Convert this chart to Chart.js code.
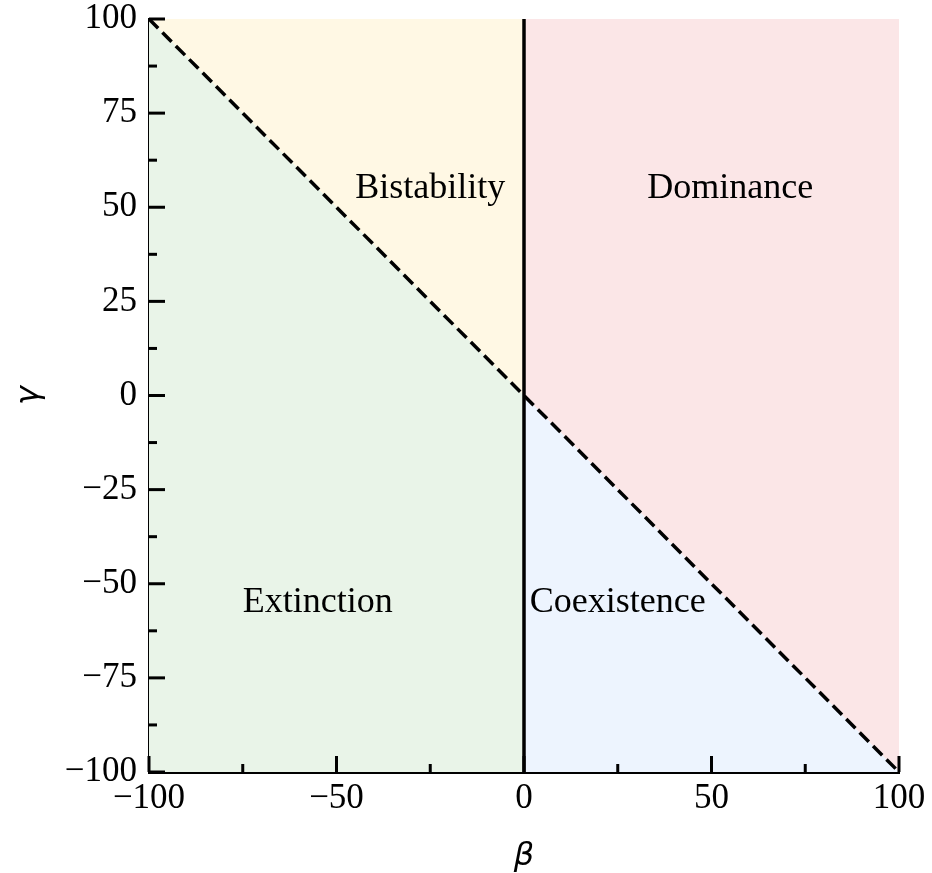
<!DOCTYPE html>
<html>
<head>
<meta charset="utf-8">
<title>Phase diagram</title>
<script src="https://cdn.jsdelivr.net/npm/chart.js@4.4.1/dist/chart.umd.min.js"></script>
<style>
  html, body { margin: 0; padding: 0; background: #fff; }
  #wrap { width: 932px; height: 873px; }
</style>
</head>
<body>
<div id="wrap"><canvas id="phaseChart" width="932" height="873"></canvas></div>
<script>
// Region corners (beta, gamma)
const extinctionBeta = [-100, 0, 0, -100, -100];
const extinctionGamma = [100, 0, -100, -100, 100];
const bistabilityBeta = [-100, 0, 0, -100];
const bistabilityGamma = [100, 100, 0, 100];
const dominanceBeta = [0, 100, 100, 0, 0];
const dominanceGamma = [100, 100, -100, 0, 100];
const coexistenceBeta = [0, 100, 0, 0];
const coexistenceGamma = [0, -100, -100, 0];

// Boundaries: gamma = -beta (dashed) and beta = 0 (solid)
const diagonalBeta = [-100, 100];
const diagonalGamma = [100, -100];
const verticalBeta = [0, 0];
const verticalGamma = [-100, 100];

// Region labels
const regionNames = ['Extinction', 'Bistability', 'Dominance', 'Coexistence'];
const regionBeta = [-55, -25, 55, 25];
const regionGamma = [-55, 55, 55, -55];

// Axis ticks
const betaTicks = [-100, -50, 0, 50, 100];
const gammaTicks = [-100, -75, -50, -25, 0, 25, 50, 75, 100];

function toPoints(xs, ys) {
    return xs.map(function(x, i) { return { x: x, y: ys[i] }; });
}

function regionSet(xs, ys, color) {
    return {
        data: toPoints(xs, ys),
        backgroundColor: color,
        borderWidth: 0,
        pointRadius: 0,
        fill: 'shape',
        showLine: true,
        order: 5
    };
}

function minus(v) {
    return String(v).replace('-', '\u2212');
}

// Inward major/minor ticks on the left and bottom axes
const innerTicks = {
    id: 'innerTicks',
    afterDatasetsDraw(chart) {
        const ctx = chart.ctx;
        const area = chart.chartArea;
        const xs = chart.scales.x;
        const ys = chart.scales.y;
        ctx.save();
        ctx.strokeStyle = '#000';
        ctx.lineWidth = 3;
        ctx.lineCap = 'butt';

        function mark(scale, values, len) {
            values.forEach(function(v) {
                const p = scale.getPixelForValue(v);
                ctx.beginPath();
                if (scale.isHorizontal()) {
                    ctx.moveTo(p, area.bottom);
                    ctx.lineTo(p, area.bottom - len);
                } else {
                    ctx.moveTo(area.left, p);
                    ctx.lineTo(area.left + len, p);
                }
                ctx.stroke();
            });
        }
        function halves(values) {
            const out = [];
            for (let i = 0; i < values.length - 1; i++) out.push((values[i] + values[i + 1]) / 2);
            return out;
        }
        mark(xs, betaTicks, 16);
        mark(xs, halves(betaTicks), 8);
        mark(ys, gammaTicks, 16);
        mark(ys, halves(gammaTicks), 8);
        ctx.restore();
    }
};

// Region names placed in data coordinates
const regionText = {
    id: 'regionText',
    afterDatasetsDraw(chart) {
        const ctx = chart.ctx;
        const xs = chart.scales.x;
        const ys = chart.scales.y;
        ctx.save();
        ctx.fillStyle = '#000';
        ctx.font = '36px "Liberation Serif"';
        ctx.textAlign = 'center';
        ctx.textBaseline = 'middle';
        regionNames.forEach(function(name, i) {
            ctx.fillText(name, xs.getPixelForValue(regionBeta[i]), ys.getPixelForValue(regionGamma[i]));
        });
        ctx.restore();
    }
};

function createPhaseChart() {
    const ctx = document.getElementById('phaseChart').getContext('2d');

    new Chart(ctx, {
        type: 'scatter',
        data: {
            datasets: [
                {
                    data: toPoints(verticalBeta, verticalGamma),
                    borderColor: '#000',
                    borderWidth: 3.5,
                    pointRadius: 0,
                    showLine: true,
                    fill: false,
                    order: 1
                },
                {
                    data: toPoints(diagonalBeta, diagonalGamma),
                    borderColor: '#000',
                    borderWidth: 3.5,
                    borderDash: [13, 6],
                    pointRadius: 0,
                    showLine: true,
                    fill: false,
                    order: 1
                },
                regionSet(extinctionBeta, extinctionGamma, 'rgb(233, 244, 232)'),
                regionSet(bistabilityBeta, bistabilityGamma, 'rgb(255, 248, 228)'),
                regionSet(dominanceBeta, dominanceGamma, 'rgb(251, 230, 231)'),
                regionSet(coexistenceBeta, coexistenceGamma, 'rgb(237, 244, 254)')
            ]
        },
        options: {
            responsive: false,
            animation: false,
            layout: { padding: { left: 0, top: 19, right: 33, bottom: 0 } },
            plugins: {
                legend: { display: false },
                tooltip: { enabled: false }
            },
            scales: {
                x: {
                    type: 'linear',
                    min: -100,
                    max: 100,
                    z: 1,
                    afterBuildTicks: function(scale) {
                        scale.ticks = betaTicks.map(function(v) { return { value: v }; });
                    },
                    afterFit: function(scale) {
                        scale.height = 101;
                        scale.paddingLeft = 0;
                        scale.paddingRight = 0;
                    },
                    grid: { display: false, drawTicks: false },
                    border: { display: true, color: '#000', width: 3 },
                    ticks: {
                        color: '#000',
                        padding: 6,
                        maxRotation: 0,
                        font: { family: 'Liberation Serif', size: 35 },
                        callback: function(v) { return minus(v); }
                    },
                    title: {
                        display: true,
                        text: '\u03b2',
                        color: '#000',
                        padding: { top: 0, bottom: 0 },
                        font: { family: 'DejaVu Sans', style: 'italic', size: 32, lineHeight: 1.0 }
                    }
                },
                y: {
                    type: 'linear',
                    min: -100,
                    max: 100,
                    z: 1,
                    afterBuildTicks: function(scale) {
                        scale.ticks = gammaTicks.map(function(v) { return { value: v }; });
                    },
                    afterFit: function(scale) {
                        scale.width = 149;
                        scale.paddingTop = 0;
                        scale.paddingBottom = 0;
                    },
                    grid: { display: false, drawTicks: false },
                    border: { display: true, color: '#000', width: 3 },
                    ticks: {
                        color: '#000',
                        padding: 12,
                        font: { family: 'Liberation Serif', size: 35 },
                        callback: function(v) { return minus(v); }
                    },
                    title: {
                        display: true,
                        text: '\u03b3',
                        color: '#000',
                        padding: { top: 10, bottom: 0 },
                        font: { family: 'DejaVu Sans', style: 'italic', size: 32 }
                    }
                }
            }
        },
        plugins: [innerTicks, regionText]
    });
}

window.onload = function() {
    createPhaseChart();
};
</script>
</body>
</html>
